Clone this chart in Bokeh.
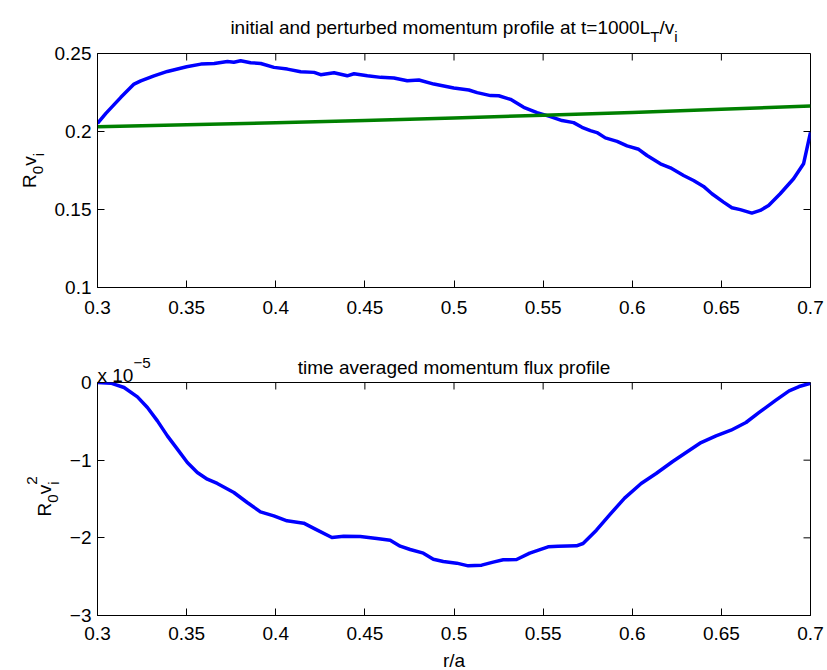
import math
from bokeh.plotting import figure
from bokeh.models import Range1d, FixedTicker, Label, GridBox
from bokeh.embed import file_html
from bokeh.resources import INLINE

# ---------------- data ----------------
r_perturbed = [0.300, 0.3047, 0.3131, 0.3205, 0.3243, 0.3317, 0.3392, 0.3500, 0.3580, 0.3655,
               0.3729, 0.3765, 0.3803, 0.3859, 0.3916, 0.3990, 0.4065, 0.4140, 0.4215, 0.4252,
               0.4327, 0.4401, 0.4439, 0.4514, 0.4589, 0.4663, 0.4738, 0.4803, 0.4887, 0.4999,
               0.5083, 0.5130, 0.5205, 0.5251, 0.5317, 0.5391, 0.5466, 0.5541, 0.5606, 0.5671,
               0.5718, 0.5765, 0.5802, 0.5849, 0.5915, 0.5971, 0.6036, 0.6083, 0.6158, 0.6214,
               0.6288, 0.6344, 0.6400, 0.6447, 0.6512, 0.6559, 0.6606, 0.6671, 0.6718, 0.6765,
               0.6830, 0.6905, 0.6961, 0.7000]
mom_perturbed = [0.2052, 0.2116, 0.2219, 0.2304, 0.2325, 0.2357, 0.2385, 0.2415, 0.2432, 0.2436,
                 0.2449, 0.2444, 0.2453, 0.2441, 0.2436, 0.2411, 0.2400, 0.2383, 0.2379, 0.2364,
                 0.2377, 0.2357, 0.2370, 0.2357, 0.2347, 0.2343, 0.2325, 0.2330, 0.2304, 0.2279,
                 0.2266, 0.2249, 0.2230, 0.2229, 0.2206, 0.2155, 0.2121, 0.2095, 0.2070, 0.2057,
                 0.2027, 0.2006, 0.1993, 0.1959, 0.1937, 0.1908, 0.1886, 0.1846, 0.1793, 0.1767,
                 0.1718, 0.1686, 0.1648, 0.1601, 0.1547, 0.1511, 0.1499, 0.1477, 0.1494, 0.1526,
                 0.1601, 0.1697, 0.1793, 0.1995]

r_initial = [0.30, 0.35, 0.40, 0.45, 0.50, 0.55, 0.60, 0.65, 0.70]
mom_initial = [0.2031, 0.2043, 0.2056, 0.2071, 0.2087, 0.2104, 0.2122, 0.2142, 0.2164]

r_flux = [0.3000, 0.3075, 0.3149, 0.3224, 0.3280, 0.3336, 0.3392, 0.3448, 0.3504, 0.3560,
          0.3616, 0.3672, 0.3765, 0.3840, 0.3914, 0.3989, 0.4063, 0.4157, 0.4222, 0.4315,
          0.4381, 0.4474, 0.4567, 0.4642, 0.4698, 0.4754, 0.4828, 0.4884, 0.4940, 0.5015,
          0.5080, 0.5155, 0.5220, 0.5276, 0.5351, 0.5425, 0.5528, 0.5584, 0.5687, 0.5724,
          0.5799, 0.5873, 0.5957, 0.6050, 0.6134, 0.6227, 0.6302, 0.6386, 0.6470, 0.6554,
          0.6638, 0.6712, 0.6806, 0.6880, 0.6936, 0.7000]
# momentum flux in units of 1e-5
flux = [0.000, -0.009, -0.064, -0.185, -0.322, -0.494, -0.687, -0.858, -1.030, -1.159,
        -1.245, -1.300, -1.416, -1.545, -1.665, -1.717, -1.781, -1.811, -1.888, -1.996,
        -1.979, -1.983, -2.009, -2.030, -2.107, -2.150, -2.197, -2.275, -2.305, -2.326,
        -2.361, -2.352, -2.313, -2.283, -2.279, -2.197, -2.116, -2.107, -2.103, -2.073,
        -1.901, -1.704, -1.489, -1.300, -1.172, -1.017, -0.901, -0.773, -0.687, -0.614,
        -0.515, -0.386, -0.227, -0.107, -0.052, -0.009]

x_ticks = [0.3, 0.35, 0.4, 0.45, 0.5, 0.55, 0.6, 0.65, 0.7]
x_tick_labels = ["0.3", "0.35", "0.4", "0.45", "0.5", "0.55", "0.6", "0.65", "0.7"]
top_y_ticks = [0.1, 0.15, 0.2, 0.25]
top_y_tick_labels = ["0.1", "0.15", "0.2", "0.25"]
bot_y_ticks = [-3, -2, -1, 0]
bot_y_tick_labels = ["\u22123", "\u22122", "\u22121", "0"]

FONT = "Liberation Sans"
FS = 19
BLUE = "#0000ff"
GREEN = "#008000"
LW = 3.5
TICK = 7

# Arial / Liberation Sans advance widths (1/1000 em)
ADV = {' ': 278, '=': 584, '/': 278, '.': 278, 'L': 556, 'T': 611, 'R': 722, 'a': 556,
       'b': 556, 'd': 556, 'e': 556, 'f': 278, 'g': 556, 'i': 222, 'l': 222, 'm': 833,
       'n': 556, 'o': 556, 'p': 556, 'r': 333, 't': 278, 'u': 556, 'v': 500, 'x': 500,
       '\u2212': 584, '-': 333}


def tw(s, size):
    return sum(ADV.get(c, 556) for c in s) / 1000.0 * size


FW = 827
LEFT, RIGHT = 97, 17
FRAME_W = FW - LEFT - RIGHT


def make_fig(height, yr, yticks, ylabels, btop, bbottom, xstandoff):
    p = figure(width=FW, height=height, output_backend="svg", toolbar_location=None,
               x_range=Range1d(0.3, 0.7), y_range=Range1d(*yr),
               min_border_left=LEFT, min_border_right=RIGHT, min_border_top=btop,
               min_border_bottom=bbottom)
    p.title.visible = False
    p.grid.visible = False
    p.outline_line_color = "black"
    p.outline_line_width = 1
    p.background_fill_color = "white"
    p.border_fill_color = "white"
    for ax, ticks, labels in ((p.xaxis[0], x_ticks, x_tick_labels), (p.yaxis[0], yticks, ylabels)):
        ax.ticker = FixedTicker(ticks=ticks)
        ax.major_label_overrides = {t: l for t, l in zip(ticks, labels)}
        ax.major_tick_in = TICK
        ax.major_tick_out = 0
        ax.minor_tick_line_color = None
        ax.axis_line_color = "black"
        ax.major_tick_line_color = "black"
        ax.major_label_text_font = FONT
        ax.major_label_text_font_size = f"{FS}px"
        ax.major_label_text_color = "black"
    p.xaxis[0].major_label_standoff = xstandoff
    p.yaxis[0].major_label_standoff = 6
    # mirrored inward ticks on the top and right edges (box on)
    frame_h = height - btop - bbottom
    dy = TICK * (yr[1] - yr[0]) / frame_h
    dx = TICK * 0.4 / FRAME_W
    p.segment(x0=x_ticks, y0=[yr[1]] * len(x_ticks), x1=x_ticks, y1=[yr[1] - dy] * len(x_ticks),
              line_color="black", line_width=1)
    p.segment(x0=[0.7] * len(yticks), y0=yticks, x1=[0.7 - dx] * len(yticks), y1=yticks,
              line_color="black", line_width=1)
    return p


H1, H2 = 333, 337
p1 = make_fig(H1, (0.1, 0.25), top_y_ticks, top_y_tick_labels, 53, 46, 13)
p2 = make_fig(H2, (-3, 0), bot_y_ticks, bot_y_tick_labels, 49, 55, 11)

p1.line(r_perturbed, mom_perturbed, line_color=BLUE, line_width=LW, line_join="round")
p1.line(r_initial, mom_initial, line_color=GREEN, line_width=LW, line_join="round")
p2.line(r_flux, flux, line_color=BLUE, line_width=LW, line_join="round")

# transparent overlay carrying the titles and axis labels (pixel coordinates)
ov = figure(width=FW, height=H1 + H2, output_backend="svg", toolbar_location=None,
            x_range=Range1d(0, FW), y_range=Range1d(H1 + H2, 0),
            x_axis_type=None, y_axis_type=None, min_border=0)
ov.frame_align = False
ov.title.visible = False
ov.grid.visible = False
ov.outline_line_color = None
ov.background_fill_alpha = 0
ov.border_fill_alpha = 0


def compose(pieces, sx, sy, align="center", vertical=False, size=FS):
    # pieces: (text, shift_em (+ = down), scale, advance)
    total = sum(tw(t, size * sc) for t, sh, sc, adv in pieces if adv)
    if vertical:
        start = sy + total / 2 if align == "center" else sy
    else:
        start = sx - total / 2 if align == "center" else sx
    pen = 0.0
    for t, sh, sc, adv in pieces:
        fs = size * sc
        if vertical:
            px, py = sx + sh * size, start - pen
        else:
            px, py = start + pen, sy + sh * size
        ov.add_layout(Label(x=px, y=py, text=t, text_font=FONT, text_font_size=f"{fs:.1f}px",
                            text_color="black", text_align="left", text_baseline="alphabetic",
                            angle=(math.pi / 2 if vertical else 0)))
        if adv:
            pen += tw(t, fs)


SUB, SUP, SC = 0.45, -0.68, 0.8
CX = LEFT + FRAME_W / 2

compose([("initial and perturbed momentum profile at t=1000L", 0, 1, True),
         ("T", SUB, SC, True), ("/v", 0, 1, True), ("i", SUB, SC, True)], CX, 27.3)
compose([("R", 0, 1, True), ("0", SUB, SC, True), ("v", 0, 1, True), ("i", SUB, SC, True)],
        29, 170, vertical=True)
compose([("time averaged momentum flux profile", 0, 1, True)], CX, 366.5)
compose([("x 10", 0, 1, True), ("\u22125", SUP, SC, True)], LEFT, 375, align="left")
compose([("R", 0, 1, True), ("0", SUB, SC, True), ("v", 0, 1, True),
         ("2", SUP, SC, False), ("i", SUB, SC, True)], 44, 498.5, vertical=True)
compose([("r/a", 0, 1, True)], CX, 660)

layout = GridBox(children=[(p1, 0, 0), (p2, 1, 0), (ov, 0, 0, 2, 1)])
open("out.html", "w").write(file_html(layout, INLINE))
